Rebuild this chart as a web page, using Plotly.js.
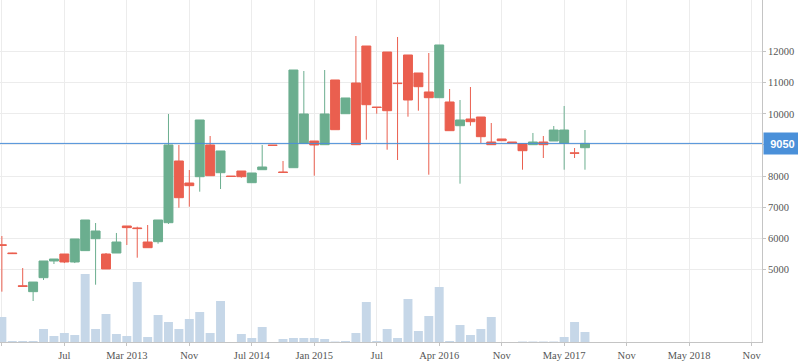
<!DOCTYPE html>
<html>
<head>
<meta charset="utf-8">
<script src="https://cdn.plot.ly/plotly-3.0.1.min.js"></script>
<style>
  html, body { margin: 0; padding: 0; background: #fff; }
  #chart { width: 798px; height: 363px; }
</style>
</head>
<body>
<div id="chart"></div>
<script>
// Month label of each candle (monthly bars, some months missing in the source)
const months = [
  "2012-01","2012-02","2012-03","2012-04","2012-05","2012-06",
  "2012-07","2012-08","2012-09","2012-11","2012-12","2013-02",
  "2013-03","2013-04","2013-05","2013-06","2013-08","2013-10",
  "2013-11","2013-12","2014-01","2014-02","2014-04","2014-06",
  "2014-07","2014-08","2014-09","2014-10","2014-11","2014-12",
  "2015-01","2015-02","2015-03","2015-04","2015-05","2015-06",
  "2015-07","2015-08","2015-10","2015-11","2016-01","2016-02",
  "2016-04","2016-05","2016-06","2016-07","2016-09","2016-10",
  "2016-11","2016-12","2017-01","2017-02","2017-03","2017-04",
  "2017-05","2017-06","2017-07"
];
const openV = [
  5790,5525,4470,4280,4730,5267,
  5492,5235,5600,5984,5492,5524,
  6393,6330,5878,5888,6499,8484,
  7776,7979,8999,8107,8000,8162,
  7786,8204,8995,8130,8268,9053,
  9127,9008,11090,10005,10993,12183,
  10220,11990,10990,11894,11315,10704,
  10520,10382,9619,9835,9899,9095,
  9192,9095,9040,9008,9095,9127,
  9053,8745,8912
];
const highV = [
  6070,5530,5040,4590,5267,5331,
  5492,5975,6586,6489,5524,6168,
  6393,6370,6425,6586,9996,8999,
  8194,9803,9288,8806,8000,8162,
  8098,8999,8995,8484,11411,11379,
  9127,11411,11090,10511,12505,12183,
  10220,11990,12473,11894,11315,11958,
  12216,10800,10446,10864,9899,9706,
  9192,9095,9040,9385,9288,9610,
  10253,8902,9481
];
const lowV = [
  4280,5500,4445,3980,4656,5170,
  5200,5200,5598,4504,5010,5524,
  5782,5373,5695,5823,6457,6981,
  7014,7496,8011,7583,7985,7947,
  7786,8204,8985,8115,8268,9053,
  8011,9008,9491,10005,9008,9169,
  10005,8847,8516,9909,10102,8043,
  10520,9459,7754,9619,9063,9008,
  9137,9063,8204,9008,8580,9127,
  8204,8580,8204
];
const closeV = [
  5770,5505,4450,4590,5267,5331,
  5235,5975,6586,6232,5010,5878,
  6340,6310,5695,6586,8999,7303,
  7690,9803,8011,8806,7985,7979,
  8098,8291,8985,8115,11411,9996,
  8999,9996,9491,10511,9008,10295,
  10205,10102,10975,10446,10874,10520,
  12216,9459,9803,9748,9266,9008,
  9137,9063,8815,9095,9008,9481,
  9481,8735,9050
];
// Volume (relative units)
const volumeV = [
  25,1,1,1,13,6,
  9,7,68,13,28,8,
  6,60,5,27,20,13,
  23,30,9,41,0,8,
  4,15,0,3,4,4,
  4,3,0.5,1,9,40,
  1,13,4,43,11,26,
  55,1,17,7,13,25,
  0,0,0.5,0.5,0.5,0.5,
  5,20,10
];
const lastPrice = 9050;
// Axis ticks (slot positions relative to Jul 2012, one slot per bar)
const tickSlots = [-6,0,6,12,18,24,30,36,42,48,54,60,66];
const tickLabels = ["","Jul","Mar 2013","Nov","Jul 2014","Jan 2015","Jul","Apr 2016","Nov","May 2017","Nov","May 2018","Nov"];
const priceTicks = [5000,6000,7000,8000,9000,10000,11000,12000];
// 9000 label is hidden behind the last-price tag in the reference
const priceTickText = ["5000","6000","7000","8000","","10000","11000","12000"];

const slots = months.map((m, i) => i - 6);

const GREEN = "#6bae8f";
const RED = "#ea5f4f";
const serif = "Liberation Serif, Times New Roman, serif";

const volTrace = {
  type: "bar",
  x: slots,
  y: volumeV,
  yaxis: "y2",
  marker: { color: "#c6d7e8", line: { width: 0 } },
  hoverinfo: "skip",
  showlegend: false
};

const candle = {
  type: "candlestick",
  x: slots,
  open: openV,
  high: highV,
  low: lowV,
  close: closeV,
  text: months,
  increasing: { line: { color: GREEN, width: 1 }, fillcolor: GREEN },
  decreasing: { line: { color: RED, width: 1 }, fillcolor: RED },
  whiskerwidth: 0,
  showlegend: false
};

const layout = {
  width: 798,
  height: 363,
  margin: { l: 0, r: 36, t: 0, b: 21, pad: 0 },
  paper_bgcolor: "#ffffff",
  plot_bgcolor: "#ffffff",
  showlegend: false,
  bargap: 0.14,
  boxgap: 0.14,
  boxgroupgap: 0,
  xaxis: {
    type: "linear",
    range: [-6.18, 67.0],
    tickmode: "array",
    tickvals: tickSlots,
    ticktext: tickLabels,
    showgrid: true,
    gridcolor: "#ececec",
    gridwidth: 1,
    zeroline: false,
    showline: true,
    linecolor: "#c4c4c4",
    linewidth: 1,
    ticks: "outside",
    ticklen: 3,
    tickcolor: "#c4c4c4",
    tickfont: { family: serif, size: 10.5, color: "#555555" },
    rangeslider: { visible: false },
    fixedrange: true
  },
  yaxis: {
    side: "right",
    range: [2661, 13663],
    tickmode: "array",
    tickvals: priceTicks,
    ticktext: priceTickText,
    showgrid: true,
    gridcolor: "#ececec",
    gridwidth: 1,
    zeroline: false,
    showline: true,
    linecolor: "#c4c4c4",
    linewidth: 1,
    ticks: "outside",
    ticklen: 3,
    tickcolor: "#c4c4c4",
    tickfont: { family: serif, size: 10.5, color: "#555555" },
    fixedrange: true
  },
  yaxis2: {
    overlaying: "y",
    range: [0, 342],
    visible: false,
    showgrid: false,
    zeroline: false,
    fixedrange: true
  },
  shapes: [{
    type: "line",
    xref: "paper", x0: 0, x1: 1,
    yref: "y", y0: lastPrice, y1: lastPrice,
    line: { color: "#4a8fd8", width: 1 }
  }],
  annotations: [{
    xref: "paper", x: 1, xanchor: "left", xshift: 1,
    yref: "y", y: lastPrice, yanchor: "middle",
    text: "<b>" + lastPrice + "</b>",
    showarrow: false,
    bgcolor: "#4a90d9",
    width: 35, height: 19,
    align: "center",
    font: { family: "Liberation Sans, Arial, sans-serif", size: 11, color: "#ffffff" }
  }]
};

Plotly.newPlot("chart", [volTrace, candle], layout, { displayModeBar: false, staticPlot: true });
</script>
</body>
</html>
